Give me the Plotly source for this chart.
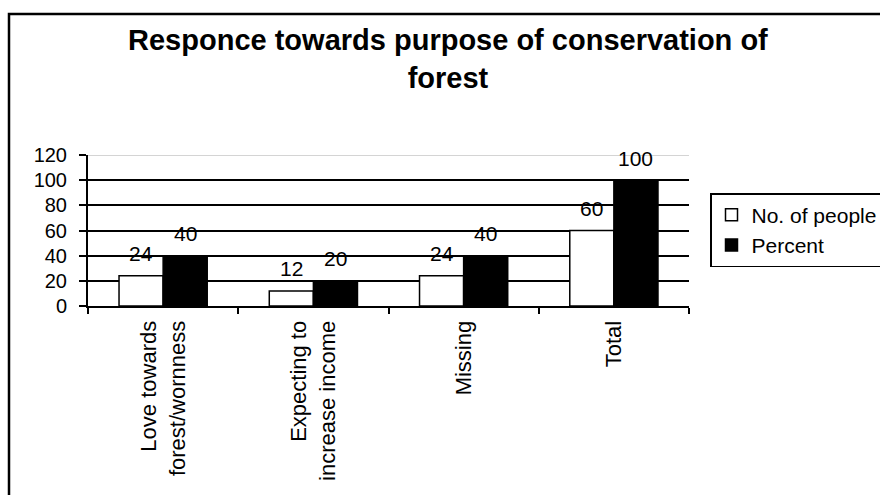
import plotly.graph_objects as go

categories = ["Love towards<br>forest/wornness", "Expecting to<br>increase income", "Missing", "Total"]
people = [24, 12, 24, 60]
percent = [40, 20, 40, 100]
y_ticks = [0, 20, 40, 60, 80, 100, 120]

FONT = "Liberation Sans, Arial, sans-serif"
W, H = 880, 495
ML, MR, MT, MB = 88, 191, 155, 189
pw, ph = W - ML - MR, H - MT - MB

def px_to_paper_x(px):
    return (px - ML) / pw

def px_to_paper_y(py):
    return (H - MB - py) / ph

fig = go.Figure()
fig.add_trace(go.Bar(name="No. of people", x=categories, y=people,
                     marker=dict(color="white", line=dict(color="black", width=1.5))))
fig.add_trace(go.Bar(name="Percent", x=categories, y=percent,
                     marker=dict(color="black", line=dict(color="black", width=1.5))))

annotations = []
for vals, shift in ((people, -22), (percent, 22)):
    for c, v in zip(categories, vals):
        annotations.append(dict(x=c, y=v, text=str(v), showarrow=False, xshift=shift,
                                yshift=22, yanchor="middle",
                                font=dict(family=FONT, size=21, color="black")))

shapes = [
    # outer chart border
    dict(type="rect", xref="paper", yref="paper",
         x0=px_to_paper_x(9), x1=px_to_paper_x(900),
         y0=px_to_paper_y(520), y1=px_to_paper_y(14),
         line=dict(color="black", width=2.5), fillcolor="rgba(0,0,0,0)", layer="below"),
    # light top edge of plot area
    dict(type="line", xref="paper", yref="y", x0=0, x1=1, y0=max(y_ticks), y1=max(y_ticks),
         line=dict(color="#d4d4d4", width=2), layer="above"),
]

fig.update_layout(
    width=W, height=H,
    margin=dict(l=ML, r=MR, t=MT, b=MB, autoexpand=False),
    paper_bgcolor="white", plot_bgcolor="white",
    barmode="group", bargap=0.413, bargroupgap=0,
    font=dict(family=FONT, color="black"),
    title=dict(text="<b>Responce towards purpose of conservation of<br>forest</b>",
               x=0.509, xanchor="center", xref="container",
               y=1 - 50 / H, yanchor="top", yref="container",
               font=dict(family=FONT, size=29, color="black")),
    legend=dict(x=px_to_paper_x(710), xanchor="left", y=px_to_paper_y(193), yanchor="top",
                bordercolor="black", borderwidth=1.5, bgcolor="white",
                font=dict(family=FONT, size=21, color="black")),
    annotations=annotations,
    shapes=shapes,
)
fig.update_xaxes(showline=True, linecolor="black", linewidth=2, ticks="outside",
                 tickson="boundaries", ticklen=6, tickwidth=2, tickcolor="black",
                 tickangle=-90, showgrid=False, ticklabelstandoff=4,
                 tickfont=dict(family=FONT, size=22, color="black"))
fig.update_yaxes(range=[0, 120], tickvals=y_ticks, showline=True, linecolor="black",
                 linewidth=2, ticks="outside", ticklen=7, tickwidth=2, tickcolor="black",
                 showgrid=True, gridcolor="black", gridwidth=1.5, zeroline=False,
                 ticklabelstandoff=8,
                 tickfont=dict(family=FONT, size=20, color="black"))

fig.write_html("out.html")
